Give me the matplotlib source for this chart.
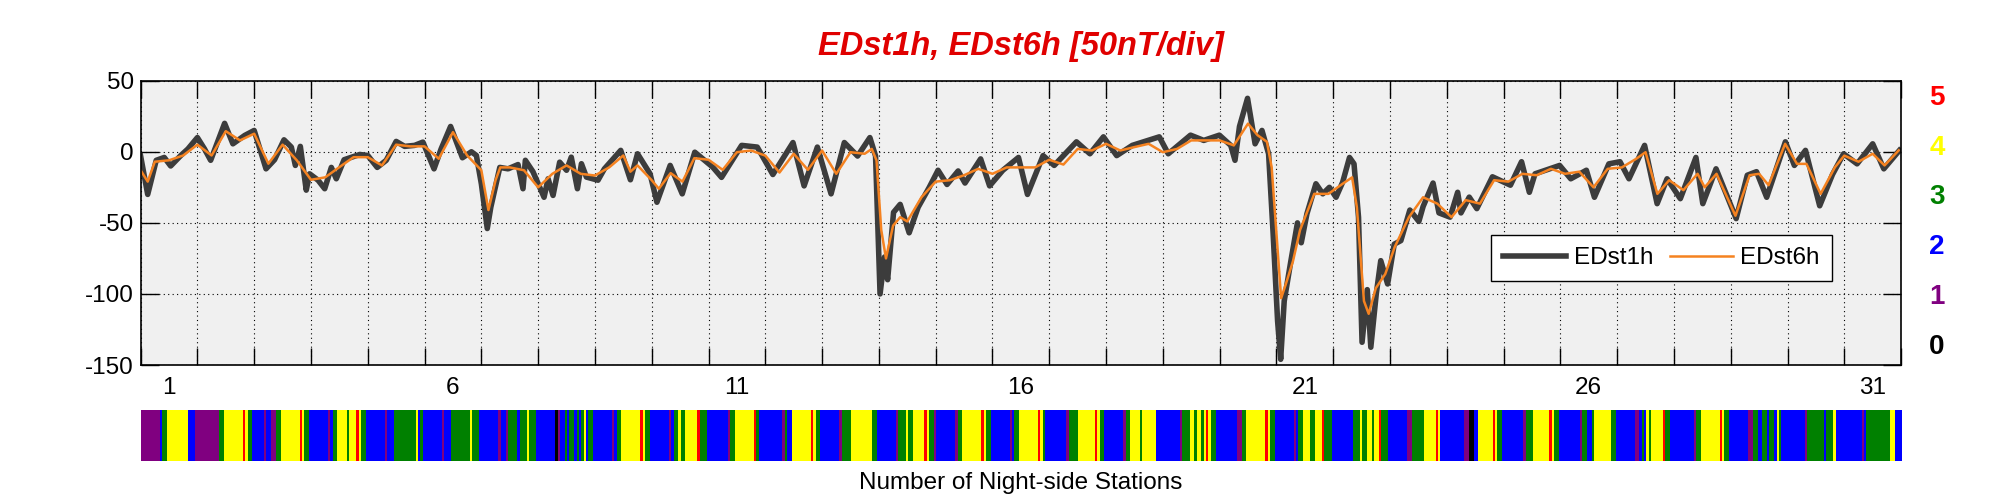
import numpy as np
import matplotlib
matplotlib.use('Agg')
import matplotlib.pyplot as plt
from matplotlib.colors import ListedColormap

plt.rcParams['font.family'] = ['Liberation Sans', 'DejaVu Sans']
plt.rcParams['axes.unicode_minus'] = False

# EDst1h read at turning points: hour of month, nT
edst1h_hour = [0, 3, 6.6, 10, 12.7, 17, 20, 24, 27, 29.6, 35.5, 39, 44, 48, 53, 56.6, 60.6, 63.7, 65.4, 67.5,
               70, 71.4, 75, 77.8, 80.6, 82.7, 86, 92.6, 96, 100, 103.8, 108, 111.6, 115.8, 119.3, 124, 127, 131,
               136, 139.8, 141.9, 144, 146.5, 148, 151.8, 155.3, 159.5, 161.6, 162.6, 165.8, 170.5, 172.2, 174.3,
               177.1, 180, 182, 184.6, 186.3, 188.4, 193.3, 196, 202.9, 207, 210,
               215.3, 218.2, 223.8, 228.9, 234.2, 241.8, 245.5, 254, 260.6, 267.2, 275.7, 280.4, 286, 291.8, 297.4,
               303, 308.2, 310.6, 312.5, 314.4, 315.7, 318.2, 321, 324.8, 328.6, 333.3, 337, 340.8, 345.5, 348.4,
               355, 358.8, 364.4, 371, 374.8, 381.4, 386.1, 395.5, 401.2, 406.9, 412.5, 419.1, 430.5, 434.3, 443.7,
               449.3, 455.9, 460.7, 462.5, 464.4, 467.8, 471, 473.9, 476.7, 478.6, 480.5, 481.8, 483.3, 486.1, 488.9,
               490.5, 492.9, 496.7, 499.6, 502.4, 505.2, 508, 510.9, 512.8, 514.7, 516.2, 518.4, 519.9, 522.2, 524.1,
               527, 529.8, 532.6, 536.4, 540.2, 542, 546.2, 548.7, 553.4, 556.6, 558, 561.5, 564.7, 571.3, 578.9,
               583.6, 586.9, 589.3, 599.7, 604.4, 611, 614.4, 620.5, 625.2, 629, 635.6, 640.9, 645.1, 650.7, 657.3,
               660.2, 665.8, 674.3, 679, 682.9, 687.2, 695.1, 698.9, 703.6, 709.6, 715, 719.7, 725.4, 732, 736.7, 743.3]
edst1h_val = [-3, -30, -6, -4, -10, -2.6, 2, 10, 2, -6, 20, 5.6, 11.5, 15, -12, -5.6, 8.4, 3.3, -9.6, 3.8,
              -27, -15.5, -20, -26, -11, -19, -5.6, -1.9, -2.6, -11, -6, 7.3, 3.8, 4.5, 6.8, -12, 2, 17.8,
              -4.2, 0, -2.6, -22.5, -54, -39, -11, -12, -9, -26, -6, -14, -32, -19, -30.7,
              -7.3, -13, -3.8, -26, -8.4, -17.8, -20, -12, 1, -19.7, -1.4,
              -15.5, -35.5, -9.6, -29.6, -0.3, -10.8, -18, 4.5, 3.3, -16, 6.5, -24, 3.3, -29.6, 6.5,
              -3, 10, -3, -100, -74, -90, -42.6, -37, -57, -39, -25, -13, -23, -13.5, -22,
              -5, -24, -13, -4, -30, -2.7, -9.6, 7, -1.4, 10.5, -2.7, 4.5, 10.5, -1.4, 11.7,
              8, 11.7, 4.5, -6, 17.8, 37.6, 5.6, 15, -1.4, -57, -119, -146, -105, -77, -50,
              -64, -43.6, -22.5, -29.6, -25, -32, -21.4, -4, -8.5, -46, -134, -97, -137.5, -100, -76.6,
              -93, -65, -62.5, -41, -49, -38.5, -22, -43, -46, -28.5, -43, -31.9, -40, -17.6, -23.5,
              -7, -28.5, -15.5, -9.6, -19, -13, -32, -8.5, -7, -19, 4.5, -36.5, -19, -33, -4,
              -36.5, -12, -47, -16.5, -14, -32, 7, -9.6, 1, -38, -16, -1.4, -8.5, 5.6, -12, 1]

# EDst6h
edst6h_hour = [0, 3, 6, 12, 18, 24, 30, 36, 42, 48, 54, 60, 66, 72, 78, 84, 90, 96, 102, 108, 114, 120, 126, 132,
               138, 144, 147, 150, 152, 156, 162, 168, 174, 180, 186, 192, 198, 204, 207, 210,
               216, 219, 224, 229, 234, 240, 246, 252, 258, 264, 270, 276, 282, 288, 294, 300, 306, 309, 311, 313,
               315, 318, 321, 324, 330, 336, 342, 348, 354, 360, 366, 372, 378, 384, 390, 396, 402, 408, 414, 420,
               426, 432, 438, 444, 450, 456, 462, 468, 472, 476, 478, 480, 482, 484, 487, 490, 496, 502, 508, 512,
               514, 517, 519, 522, 526, 530, 536, 542, 548, 554, 560, 566, 572, 578, 584, 590, 596, 602, 608, 614,
               620, 626, 632, 636, 641, 646, 652, 658, 661, 666, 674, 680, 684, 688, 695, 700, 704, 710, 716, 720,
               726, 732, 737, 743]
edst6h_val = [-13, -21, -7, -6, -2.6, 5, -2.6, 14.5, 8, 12.7, -8.4, 5, -6, -19.7, -18, -10.8, -3.8, -3.8, -9.6, 5,
              3.8, 3.8, -4.9, 13.8, -2.6, -13, -41, -20, -11, -11, -13, -25, -15.5, -9.6, -15.5, -16.7, -11, -2.6,
              -14, -9.6,
              -20, -26, -15, -21, -4.5, -5.6, -12.7, -0.3, 0.9, -2.7, -14.6, -1.4, -12.7, 0.9, -15.5, -0.3, -1.4,
              2, -6, -55, -75, -52, -46, -49, -32, -21, -20, -16.5, -12, -15.5, -11, -11, -11, -5.6, -9, 2, 0.9,
              5.6, 0.9, 3.3, 5.6, -0.3, 2, 8, 8, 8, 4.5, 19.8, 11.7, 7, -11, -57, -103, -93, -77, -55, -29.6,
              -29.6, -22.5, -18, -39, -105, -114, -96, -86, -67, -46, -32, -36.5, -46, -34, -36.5, -20, -21,
              -15.5, -16.5, -12, -15.5, -14, -25, -12, -11, -5, -0.3, -29.6, -20, -27, -15.5, -25, -15.5, -45,
              -16.5, -15.5, -23.5, 5.6, -8.5, -8.5, -29.6, -11, -2.7, -7, -1.4, -9.6, 1]

# number of night-side stations, run-length coded: start hour and level
run_start = [0, 8, 9, 11, 20, 23, 33, 35, 43, 44, 45, 47, 52, 53, 55, 57, 59, 67, 68, 69, 71, 79, 80, 81, 83,
             87, 88, 91, 92, 93, 95, 103, 104, 107, 116, 117, 118, 119, 127, 128, 131, 139, 140, 143, 151, 152,
             154, 155, 159, 160, 163, 164, 167, 175, 176, 177, 179, 180, 181, 183, 184, 185, 186, 187, 188, 189,
             191, 199, 200, 201, 203, 211, 212, 213, 215, 223, 224, 225, 227, 228, 230, 235, 236, 239, 248, 249,
             251, 259, 260, 261, 271, 272, 273, 275, 283, 284, 285, 287, 295, 296, 300, 309, 311, 319, 320, 323,
             324, 326, 331, 332, 333, 335, 336, 344, 345, 347, 355, 356, 357, 359, 367, 368, 369, 371, 379, 380,
             381, 382, 391, 392, 396, 403, 404, 405, 407, 415, 416, 418, 422, 423, 429, 439, 440, 443, 445, 446,
             448, 449, 450, 451, 452, 454, 463, 465, 467, 475, 476, 477, 479, 487, 488, 489, 491, 494, 496, 499,
             500, 503, 512, 515, 516, 518, 520, 521, 523, 524, 527, 535, 537, 542, 547, 548, 549, 559, 561, 563,
             565, 571, 572, 573, 575, 584, 585, 588, 595, 596, 597, 599, 608, 609, 611, 613, 614, 621, 623, 631,
             633, 634, 635, 636, 637, 638, 643, 644, 646, 656, 657, 659, 667, 668, 669, 671, 679, 681, 683, 685,
             687, 688, 690, 691, 692, 693, 703, 704, 711, 712, 715, 716, 727, 728, 729, 739, 741]
run_level = [1, 2, 3, 4, 2, 1, 3, 4, 5, 4, 3, 2, 1, 2, 1, 3, 4, 5, 4, 3, 2, 1, 2, 3, 4,
             3, 4, 5, 4, 3, 2, 1, 2, 3, 4, 2, 3, 2, 1, 2, 3, 4, 3, 2, 1, 2,
             1, 3, 2, 3, 4, 3, 2, 0, 1, 2, 3, 2, 3, 2, 3, 2, 3, 4, 2, 3,
             2, 1, 2, 3, 4, 5, 4, 3, 2, 1, 2, 3, 4, 3, 4, 5, 3, 2, 1, 3,
             4, 5, 3, 2, 1, 3, 2, 4, 5, 4, 3, 2, 1, 3, 4, 3, 2, 1, 3, 4,
             3, 4, 5, 4, 3, 1, 2, 1, 3, 4, 5, 4, 3, 2, 1, 2, 3, 4, 5, 4,
             3, 2, 1, 3, 4, 5, 4, 3, 2, 1, 3, 4, 3, 4, 2, 1, 3, 4, 3, 4,
             3, 4, 5, 4, 3, 2, 1, 3, 4, 5, 4, 3, 2, 1, 2, 3, 4, 3, 4, 5,
             3, 2, 3, 4, 3, 4, 3, 4, 5, 3, 2, 1, 3, 4, 5, 4, 2, 1, 0, 2,
             4, 5, 4, 3, 2, 1, 3, 4, 5, 4, 3, 2, 1, 3, 2, 3, 4, 3, 2, 1,
             2, 3, 2, 4, 3, 4, 5, 3, 2, 1, 3, 4, 5, 4, 3, 2, 1, 3, 2, 3,
             2, 3, 2, 4, 3, 2, 1, 3, 2, 3, 4, 2, 1, 2, 3, 4, 2]
n_hours = 744

day_labels = ['1', '6', '11', '16', '21', '26', '31']
level_colors = ['#000000', '#800080', '#0000ff', '#008000', '#ffff00', '#ff0000']

# expand runs to hourly values
run_len = np.diff(run_start + [n_hours])
stations = np.repeat(run_level, run_len)

fig = plt.figure(figsize=(20.01, 5.0), dpi=100)
ax = fig.add_axes([0.07027, 0.27, 0.8798, 0.5686])
ax.set_facecolor('#f0f0f0')

x1 = 1 + np.array(edst1h_hour) / 24
x6 = 1 + np.array(edst6h_hour) / 24
ax.plot(x1, edst1h_val, color='#3c3c3c', lw=4, label='EDst1h', solid_joinstyle='round')
ax.plot(x6, edst6h_val, color='#f58220', lw=1.8, label='EDst6h')

ax.set_xlim(1, 32)
ax.set_ylim(-150, 50)
ax.set_yticks([-150, -100, -50, 0, 50])
ax.set_xticks(np.arange(1, 33))
ax.set_xticklabels([])
ax.set_xticks([int(d) + 0.5 for d in day_labels], minor=True)
ax.set_xticklabels(day_labels, minor=True)
ax.tick_params(axis='x', which='major', direction='in', length=12.5, width=1, top=True, bottom=True)
ax.tick_params(axis='x', which='minor', length=0, pad=9, labelsize=17.5, top=False)
ax.tick_params(axis='y', direction='in', length=13, width=1, right=True, labelsize=17.5, pad=5)
ax.grid(True, which='major', linestyle=(0, (1, 3)), color='black', lw=0.8)
for s in ax.spines.values():
    s.set_linewidth(1.2)

leg = ax.legend(loc='upper left', bbox_to_anchor=(0.767, 0.457), ncol=2, fontsize=17.5,
                fancybox=False, edgecolor='black', framealpha=1, borderaxespad=0,
                borderpad=0.5, handlelength=2.6, handletextpad=0.3, columnspacing=0.68)
leg.get_frame().set_linewidth(1.0)

fig.text(0.5101, 0.906, 'EDst1h, EDst6h [50nT/div]', color='#e00000', fontsize=23.5,
         fontweight='bold', fontstyle='italic', ha='center', va='center')

# level key on the right
key_y = [0.804, 0.704, 0.606, 0.506, 0.406, 0.306]
for lev, yy in zip([5, 4, 3, 2, 1, 0], key_y):
    fig.text(0.968, yy, str(lev), color=level_colors[lev], fontsize=20, fontweight='bold',
             ha='center', va='center')

# station bar
ax2 = fig.add_axes([0.07027, 0.078, 0.8798, 0.102])
ax2.imshow(stations[np.newaxis, :], aspect='auto', cmap=ListedColormap(level_colors),
           vmin=-0.5, vmax=5.5, interpolation='nearest', extent=[0, n_hours, 0, 1])
ax2.axis('off')

fig.text(0.5101, 0.034, 'Number of Night-side Stations', fontsize=17.5, ha='center', va='center')

plt.savefig('out.png', dpi=100)
